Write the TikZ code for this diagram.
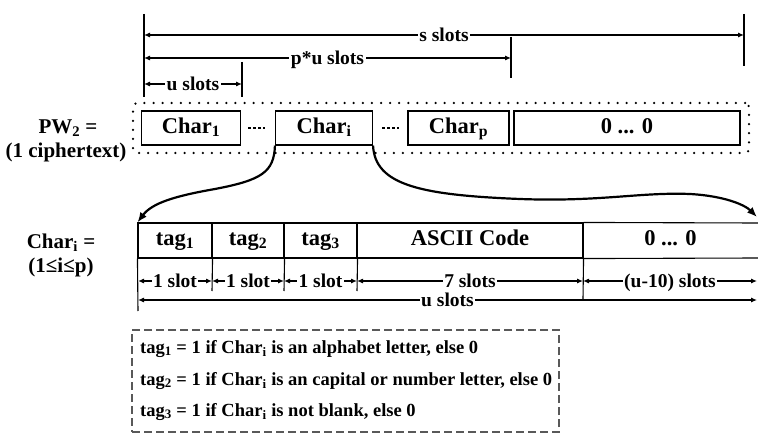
\documentclass[tikz,border=0pt]{standalone}
\usepackage{fontspec}
\setmainfont{Liberation Serif}
\usetikzlibrary{arrows.meta}
\begin{document}
\begin{tikzpicture}[x=1pt,y=-1pt,
  every node/.style={inner sep=0pt},
  tip/.tip={Latex[length=6pt,width=5pt]},
  dim/.style={line width=1.1pt, tip-tip},
  dimlab/.style={fill=white, inner xsep=1.5pt, text height=12.4pt, text depth=0pt,
    font=\fontsize{19.5}{20}\selectfont\bfseries},
  tickline/.style={line width=1.1pt},
  cbox/.style={draw, line width=1.1pt, minimum height=34pt, text height=15.8pt, text depth=5.6pt,
    font=\fontsize{22.5}{23}\selectfont\bfseries},
  cell/.style={draw, line width=1.1pt, minimum height=35pt, text height=15.8pt, text depth=5.6pt,
    font=\fontsize{22.5}{23}\selectfont\bfseries},
  sidelab/.style={font=\fontsize{21}{21}\selectfont\bfseries},
  notelab/.style={anchor=west, text height=13pt, text depth=4.6pt,
    font=\fontsize{18.5}{19}\selectfont\bfseries},
  sepdash/.style={line width=2.2pt, dash pattern=on 3pt off 2pt},
  expcurve/.style={line width=2.2pt, -{Latex[length=10pt,width=8pt]}},
]
\useasboundingbox (0,0) rectangle (758,433);

% ---------- top row ----------
\node[draw, line width=2.5pt, dash pattern=on 0pt off 9.1pt, line cap=round, rounded corners=4pt,
      minimum width=616pt, minimum height=50pt] (frame) at (441,128) {};
\node[cbox, minimum width=99pt] (c1) at (191,128) {Char\textsubscript{1}};
\node[cbox, minimum width=97pt]  (ci) at (324,128) {Char\textsubscript{i}};
\node[cbox, minimum width=101pt] (cp) at (458.5,128) {Char\textsubscript{p}};
\node[cbox, minimum width=226pt] (cz) at (627,128) {0 ... 0};

\coordinate (s1a) at (248,128); \coordinate (s1b) at (265,128);
\coordinate (s2a) at (382,128); \coordinate (s2b) at (399,128);
\draw[sepdash] (s1a) -- (s1b);
\draw[sepdash] (s2a) -- (s2b);

\node[sidelab] (pw) at (68,128) {PW\textsubscript{2} =};
\node[sidelab] (pwc) at (66,152) {(1 ciphertext)};

% top dimension lines
\coordinate (a0t) at (144,14);  \coordinate (a0b) at (144,97);
\coordinate (a1t) at (242,62);  \coordinate (a1b) at (242,97);
\coordinate (a2t) at (511,37);  \coordinate (a2b) at (511,78);
\coordinate (a3t) at (744,14);  \coordinate (a3b) at (744,66);
\draw[tickline] (a0t) -- (a0b);
\draw[tickline] (a1t) -- (a1b);
\draw[tickline] (a2t) -- (a2b);
\draw[tickline] (a3t) -- (a3b);
\coordinate (sL) at (144,35); \coordinate (sR) at (744,35);
\coordinate (pL) at (144,58); \coordinate (pR) at (511,58);
\coordinate (uL) at (144,84); \coordinate (uR) at (242,84);
\draw[dim] (sL) -- node[dimlab] (sl) {s slots} (sR);
\draw[dim] (pL) -- node[dimlab] (pl) {p*u slots} (pR);
\draw[dim] (uL) -- node[dimlab] (ul) {u slots} (uR);

% ---------- detail row ----------
\node[cell, minimum width=74pt]  (t1) at (175,240.5) {tag\textsubscript{1}};
\node[cell, minimum width=72pt]  (t2) at (248,240.5) {tag\textsubscript{2}};
\node[cell, minimum width=73pt]  (t3) at (320.5,240.5) {tag\textsubscript{3}};
\node[cell, minimum width=226pt] (asc) at (470,240.5) {ASCII Code};
\node[cell, draw=none, minimum width=175pt] (z) at (670.5,240.5) {0 ... 0};
\coordinate (rt) at (758,223); \coordinate (rb) at (758,258);
\draw[line width=1.1pt] (asc.north east) -- (rt);
\draw[line width=1.1pt] (asc.south east) -- (rb);

\node[sidelab] (cl) at (61,243) {Char\textsubscript{i} =};
\node[sidelab] (cr) at (61,267) {(1≤i≤p)};

% lower ticks
\coordinate (b0b) at (138,311);
\coordinate (b1b) at (212,291);
\coordinate (b2b) at (284,291);
\coordinate (b3b) at (357,291);
\coordinate (b4b) at (583,299);
\draw[tickline] (t1.south west) -- (b0b);
\draw[tickline] (t1.south east) -- (b1b);
\draw[tickline] (t2.south east) -- (b2b);
\draw[tickline] (t3.south east) -- (b3b);
\draw[tickline] (asc.south east) -- (b4b);

\coordinate (e0) at (138,281); \coordinate (e1) at (212,281);
\coordinate (e2) at (284,281); \coordinate (e3) at (357,281);
\coordinate (e4) at (583,281); \coordinate (e5) at (757,281);
\coordinate (f0) at (138,300); \coordinate (f1) at (757,300);
\draw[dim] (e0) -- node[dimlab] (l1) {1 slot} (e1);
\draw[dim] (e1) -- node[dimlab] (l2) {1 slot} (e2);
\draw[dim] (e2) -- node[dimlab] (l3) {1 slot} (e3);
\draw[dim] (e3) -- node[dimlab] (l7) {7 slots} (e4);
\draw[dim] (e4) -- node[dimlab] (lu) {(u-10) slots} (e5);
\draw[dim] (f0) -- node[dimlab] (lall) {u slots} (f1);

% expansion curves
\coordinate (tipR) at (757,217);
\draw[expcurve] (ci.south west) .. controls (274,172) and (262,180) .. (215,189)
   .. controls (175,196) and (152,203) .. (t1.north west);
\draw[expcurve] (ci.south east) .. controls (375,185) and (420,195) .. (520,199)
   .. controls (600,202) and (640,192) .. (690,194)
   .. controls (725,196) and (745,205) .. (tipR);

% ---------- note box ----------
\node[draw=black!65, line width=1.4pt, dash pattern=on 8pt off 4pt,
      minimum width=427pt, minimum height=102pt] (note) at (345.5,381) {};
\node[notelab] (n1) at (140,349) {tag\textsubscript{1} = 1 if Char\textsubscript{i} is an alphabet letter, else 0};
\node[notelab] (n2) at (140,381) {tag\textsubscript{2} = 1 if Char\textsubscript{i} is an capital or number letter, else 0};
\node[notelab] (n3) at (140,412) {tag\textsubscript{3} = 1 if Char\textsubscript{i} is not blank, else 0};
\end{tikzpicture}
\end{document}
